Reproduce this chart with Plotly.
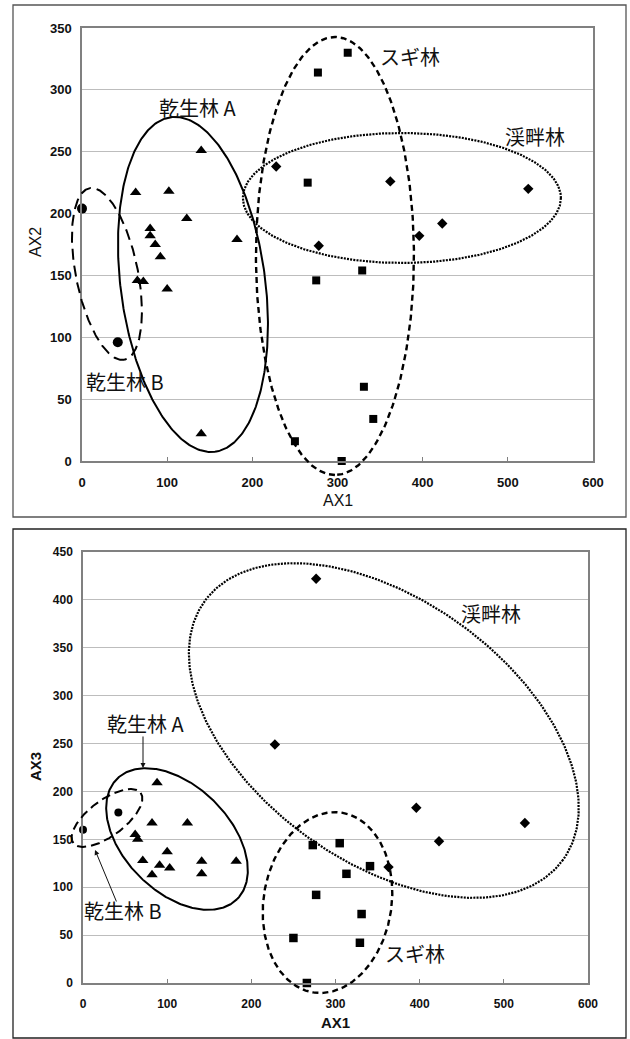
import numpy as np
import plotly.graph_objects as go

W, H = 630, 1039

# ---------------- data: panel 1 (AX1 vs AX2) ----------------
p1_tri_ax1 = [63, 102, 123, 80, 80, 86, 92, 65, 72, 100, 140, 182, 140]
p1_tri_ax2 = [217, 218, 196, 188, 182, 175, 165, 146, 145, 139, 251, 179, 22]
p1_cir_ax1 = [0, 42]
p1_cir_ax2 = [204, 96]
p1_sq_ax1 = [250, 265, 275, 277, 305, 312, 329, 331, 342]
p1_sq_ax2 = [16, 225, 146, 314, 0, 330, 154, 60, 34]
p1_dia_ax1 = [228, 278, 362, 396, 423, 524]
p1_dia_ax2 = [238, 174, 226, 182, 192, 220]

# ---------------- data: panel 2 (AX1 vs AX3) ----------------
p2_tri_ax1 = [88, 82, 124, 62, 65, 100, 71, 91, 103, 141, 182, 82, 141]
p2_tri_ax3 = [209, 167, 167, 155, 150, 137, 128, 123, 120, 127, 127, 113, 114]
p2_cir_ax1 = [0, 42]
p2_cir_ax3 = [160, 178]
p2_sq_ax1 = [250, 266, 273, 277, 305, 313, 329, 331, 341]
p2_sq_ax3 = [47, 0, 144, 92, 146, 114, 42, 72, 122]
p2_dia_ax1 = [228, 277, 363, 396, 423, 525]
p2_dia_ax3 = [249, 422, 121, 183, 148, 167]

x_ticks = [0, 100, 200, 300, 400, 500, 600]
y1_ticks = [0, 50, 100, 150, 200, 250, 300, 350]
y2_ticks = [0, 50, 100, 150, 200, 250, 300, 350, 400, 450]

# plot-area pixel boxes (left, right, top, bottom)
P1 = (82, 593, 28, 461)
P2 = (83, 588, 552, 983)
X_RANGE = (0, 600)
Y1_RANGE = (0, 350)
Y2_RANGE = (0, 450)
PAD = 25  # extra pixels for overlay axes (so ellipses are not clipped)


def dom_x(l, r):
    return [l / W, r / W]


def dom_y(t, b):
    return [1 - b / H, 1 - t / H]


fig = go.Figure()


def scales(P, yr):
    sx = (P[1] - P[0]) / (X_RANGE[1] - X_RANGE[0])
    sy = (P[3] - P[2]) / (yr[1] - yr[0])
    return sx, sy


S1 = scales(P1, Y1_RANGE)
S2 = scales(P2, Y2_RANGE)


def ellipse(cx, cy, a, b, phi, S):
    """center in data units, semi-axes in screen px, phi = screen angle (deg, y down)"""
    t = np.linspace(0, 2 * np.pi, 361)
    ph = np.deg2rad(phi)
    dx = a * np.cos(t) * np.cos(ph) - b * np.sin(t) * np.sin(ph)
    dy = a * np.cos(t) * np.sin(ph) + b * np.sin(t) * np.cos(ph)
    return cx + dx / S[0], cy - dy / S[1]


BLACK = "#000000"
DOT = "2px,1.2px"

ell1 = [
    (130.3, 142.7, 168.7, 72.3, 82.5, "solid", 2.0),
    (29.3, 151.2, 87.5, 31, 78.5, "11px,6px", 2.0),
    (297.0, 165.7, 219, 79, 90, "6px,4px", 2.4),
    (375.6, 212.6, 159, 65, 0, DOT, 2.2),
]
for cx, cy, a, b, ph, dash, lw in ell1:
    ex, ey = ellipse(cx, cy, a, b, ph, S1)
    fig.add_trace(go.Scatter(x=ex, y=ey, mode="lines", xaxis="x3", yaxis="y3",
                             line=dict(color=BLACK, width=lw, dash=dash),
                             hoverinfo="skip", showlegend=False))

ell2 = [
    (111.7, 150.3, 85, 53, 45, "solid", 2.0),
    (28.5, 172.3, 42, 18, -36.7, "9px,5px", 2.0),
    (290.5, 84.0, 91, 64, -81, "6px,4px", 2.4),
    (357.4, 263.6, 221, 131, 35.8, DOT, 2.2),
]
for cx, cy, a, b, ph, dash, lw in ell2:
    ex, ey = ellipse(cx, cy, a, b, ph, S2)
    fig.add_trace(go.Scatter(x=ex, y=ey, mode="lines", xaxis="x4", yaxis="y4",
                             line=dict(color=BLACK, width=lw, dash=dash),
                             hoverinfo="skip", showlegend=False))


def pts(x, y, sym, size, xa, ya):
    fig.add_trace(go.Scatter(x=x, y=y, mode="markers", xaxis=xa, yaxis=ya,
                             marker=dict(symbol=sym, size=size, color=BLACK,
                                         line=dict(width=0)),
                             cliponaxis=False, showlegend=False))


pts(p1_tri_ax1, p1_tri_ax2, "triangle-up", 10, "x", "y")
pts(p1_cir_ax1, p1_cir_ax2, "circle", 10, "x", "y")
pts(p1_sq_ax1, p1_sq_ax2, "square", 8, "x", "y")
pts(p1_dia_ax1, p1_dia_ax2, "diamond", 8, "x", "y")

pts(p2_tri_ax1, p2_tri_ax3, "triangle-up", 10, "x2", "y2")
pts(p2_cir_ax1, p2_cir_ax3, "circle", 8, "x2", "y2")
pts(p2_sq_ax1, p2_sq_ax3, "square", 8.5, "x2", "y2")
pts(p2_dia_ax1, p2_dia_ax3, "diamond", 8, "x2", "y2")

GRID = "#bdbdbd"
AXC = "#808080"
tickfont1 = dict(family="Liberation Sans, Arial", size=13, color="#111111", weight="bold")
tickfont2 = dict(family="Liberation Sans, Arial", size=12, color="#111111", weight="bold")

common_x = dict(range=list(X_RANGE), tickvals=x_ticks, showgrid=False, zeroline=False,
                showline=True, linecolor=AXC, linewidth=1.5, mirror=True,
                ticks="inside", ticklen=4, tickcolor=AXC, ticklabelstandoff=9,
                automargin=False)
common_y = dict(showgrid=True, gridcolor=GRID, gridwidth=1, zeroline=False,
                showline=True, linecolor=AXC, linewidth=1.5, mirror=True,
                ticks="", ticklabelstandoff=6, automargin=False)


def overlay_x(P):
    sx = (P[1] - P[0]) / (X_RANGE[1] - X_RANGE[0])
    pl = min(PAD, P[0])
    pr = min(PAD, W - P[1])
    return dict(domain=dom_x(P[0] - pl, P[1] + pr),
                range=[X_RANGE[0] - pl / sx, X_RANGE[1] + pr / sx],
                visible=False, fixedrange=True)


def overlay_y(P, yr):
    sy = (P[3] - P[2]) / (yr[1] - yr[0])
    pt = min(PAD, P[2])
    pb = min(PAD, H - P[3])
    return dict(domain=dom_y(P[2] - pt, P[3] + pb),
                range=[yr[0] - pb / sy, yr[1] + pt / sy],
                visible=False, fixedrange=True)


fig.update_layout(
    width=W, height=H,
    margin=dict(l=0, r=0, t=0, b=0, autoexpand=False),
    paper_bgcolor="white", plot_bgcolor="rgba(0,0,0,0)",
    showlegend=False,
    xaxis=dict(domain=dom_x(P1[0], P1[1]), anchor="y", tickfont=tickfont1, **common_x),
    yaxis=dict(domain=dom_y(P1[2], P1[3]), anchor="x", range=list(Y1_RANGE),
               tickvals=y1_ticks, tickfont=tickfont1, **common_y),
    xaxis2=dict(domain=dom_x(P2[0], P2[1]), anchor="y2", tickfont=tickfont2, **common_x),
    yaxis2=dict(domain=dom_y(P2[2], P2[3]), anchor="x2", range=list(Y2_RANGE),
                tickvals=y2_ticks, tickfont=tickfont2, **common_y),
    xaxis3=dict(anchor="y3", **overlay_x(P1)),
    yaxis3=dict(anchor="x3", **overlay_y(P1, Y1_RANGE)),
    xaxis4=dict(anchor="y4", **overlay_x(P2)),
    yaxis4=dict(anchor="x4", **overlay_y(P2, Y2_RANGE)),
)

# outer frames
fig.add_shape(type="rect", xref="paper", yref="paper",
              x0=13 / W, x1=626 / W, y0=1 - 517 / H, y1=1 - 5 / H,
              line=dict(color="#555555", width=1.3), layer="below")
fig.add_shape(type="rect", xref="paper", yref="paper",
              x0=13 / W, x1=626 / W, y0=1 - 1038 / H, y1=1 - 529 / H,
              line=dict(color="#222222", width=1.3), layer="below")

JP = "Noto Sans CJK JP"


def label(text, x, y, xref, yref, size=20):
    fig.add_annotation(text=text, x=x, y=y, xref=xref, yref=yref, showarrow=False,
                       font=dict(family=JP, size=size, color="#111111"),
                       xanchor="center", yanchor="middle")


label("乾生林 A", 136, 286, "x", "y")
label("スギ林", 385, 327, "x", "y")
label("渓畔林", 532, 262, "x", "y")
label("乾生林 B", 50.5, 64, "x", "y")

label("乾生林 A", 74, 271, "x2", "y2")
label("乾生林 B", 48, 76, "x2", "y2")
label("スギ林", 394, 31, "x2", "y2")
label("渓畔林", 485, 386, "x2", "y2")

# arrows (panel 2)
fig.add_annotation(x=71.3, y=224.5, xref="x2", yref="y2", text="", showarrow=True,
                   ax=0, ay=-33, arrowhead=2, arrowsize=1, arrowwidth=1, arrowcolor="#111111")
fig.add_annotation(x=14.3, y=138.9, xref="x2", yref="y2", text="", showarrow=True,
                   ax=22, ay=53, arrowhead=2, arrowsize=1, arrowwidth=1, arrowcolor="#111111")

# axis titles
ttl1 = dict(family="Liberation Sans, Arial", size=16, color="#111111")
ttl2 = dict(family="Liberation Sans, Arial", size=15, color="#111111", weight="bold")


def title(text, xpx, ypx, font, angle=0):
    fig.add_annotation(text=text, x=xpx / W, y=1 - ypx / H, xref="paper", yref="paper",
                       showarrow=False, textangle=angle, font=font,
                       xanchor="center", yanchor="middle")


title("AX2", 35, 242, ttl1, -90)
title("AX1", (P1[0] + P1[1]) / 2, 500, ttl1)
title("AX3", 35, 767, ttl2, -90)
title("AX1", (P2[0] + P2[1]) / 2, 1022, ttl2)

fig.write_html("out.html", config={"displayModeBar": False},
               post_script="document.body.style.margin='0';document.body.style.padding='0';")
